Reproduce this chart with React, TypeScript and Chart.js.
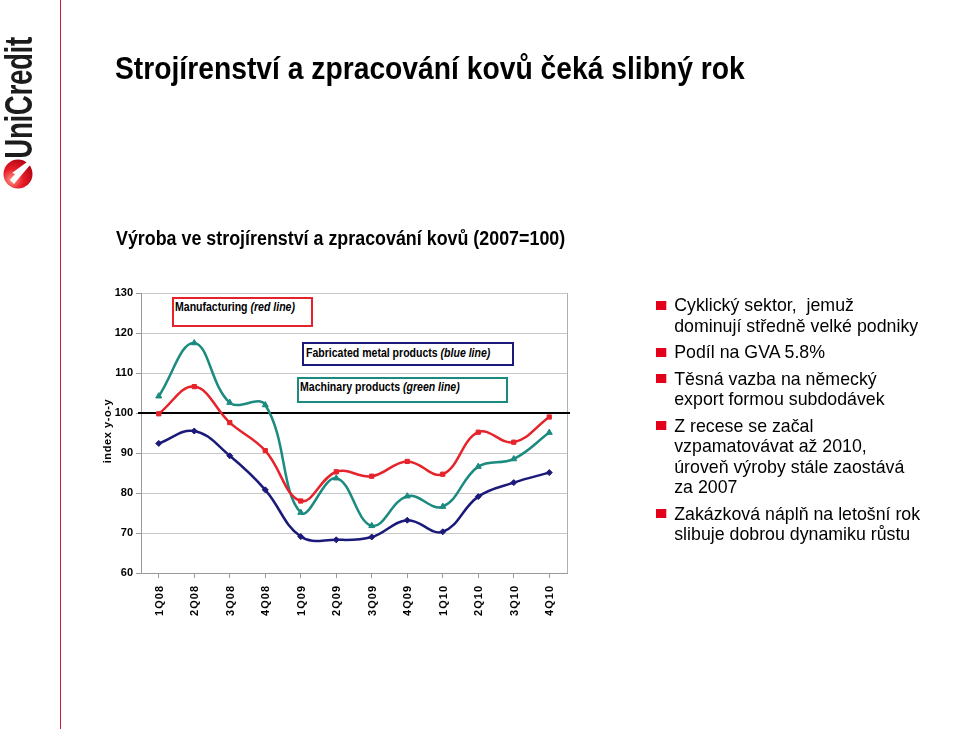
import React, { useEffect, useRef } from "react";
import { Chart, registerables } from "chart.js";

Chart.register(...registerables);

// ---- data ----
const categories = ["1Q08", "2Q08", "3Q08", "4Q08", "1Q09", "2Q09", "3Q09", "4Q09", "1Q10", "2Q10", "3Q10", "4Q10"];
const manufacturing = [99.8, 106.6, 97.6, 90.6, 78.0, 85.3, 84.2, 87.9, 84.7, 95.2, 92.7, 99.0];
const fabricatedMetal = [92.4, 95.5, 89.3, 80.8, 69.1, 68.3, 69.0, 73.2, 70.3, 79.1, 82.6, 85.1];
const machinery = [104.2, 117.5, 102.6, 102.0, 75.1, 83.7, 71.8, 79.2, 76.6, 86.6, 88.5, 95.1];
const yTicks = [60, 70, 80, 90, 100, 110, 120, 130];
const baseLine = 100;

const title = "Strojírenství a zpracování kovů čeká slibný rok";
const subtitle = "Výroba ve strojírenství a zpracování kovů (2007=100)";
const yAxisTitle = "index y-o-y";
const bullets = [
  ["Cyklický sektor,  jemuž", "dominují středně velké podniky"],
  ["Podíl na GVA 5.8%"],
  ["Těsná vazba na německý", "export formou subdodávek"],
  ["Z recese se začal", "vzpamatovávat až 2010,", "úroveň výroby stále zaostává", "za 2007"],
  ["Zakázková náplň na letošní rok", "slibuje dobrou dynamiku růstu"],
];

const RED = "#e6232b";
const BLUE = "#1b1a7a";
const GREEN = "#1b8a7f";
const SANS = '"Liberation Sans", Arial, Helvetica, sans-serif';

export default function App() {
  const ref = useRef<HTMLCanvasElement>(null);

  useEffect(() => {
    const canvas = ref.current;
    if (!canvas) return;

    const xLabels = {
      id: "xLabels",
      afterDraw(chart: any) {
        const ctx = chart.ctx;
        const xs = chart.scales.x;
        const a = chart.chartArea;
        ctx.save();
        ctx.font = `bold 11px ${SANS}`;
        (ctx as any).letterSpacing = "1px";
        ctx.fillStyle = "#000";
        ctx.textAlign = "right";
        ctx.textBaseline = "middle";
        categories.forEach((c, i) => {
          const x = xs.getPixelForValue(i);
          ctx.save();
          ctx.translate(x + 1, a.bottom + 12);
          ctx.rotate(-Math.PI / 2);
          ctx.fillText(c, 0, 0);
          ctx.restore();
        });
        ctx.restore();
      },
    };

    const frame = {
      id: "frame",
      beforeDatasetsDraw(chart: any) {
        const ctx = chart.ctx;
        const a = chart.chartArea;
        const ys = chart.scales.y;
        ctx.save();
        ctx.strokeStyle = "#b0b0b0";
        ctx.lineWidth = 1;
        const rx = Math.round(a.right) + 0.5;
        ctx.beginPath();
        ctx.moveTo(rx, a.top);
        ctx.lineTo(rx, a.bottom);
        ctx.stroke();
        const y = Math.round(ys.getPixelForValue(baseLine));
        ctx.strokeStyle = "#000";
        ctx.lineWidth = 2;
        ctx.beginPath();
        ctx.moveTo(a.left - 3, y);
        ctx.lineTo(a.right + 3, y);
        ctx.stroke();
        ctx.restore();
      },
    };

    const common = { borderWidth: 2.5, tension: 0.4, pointBorderWidth: 1 };

    const chart = new Chart(canvas, {
      type: "line",
      data: {
        labels: categories,
        datasets: [
          {
            label: "Manufacturing",
            data: manufacturing,
            borderColor: RED,
            backgroundColor: RED,
            pointStyle: "rect",
            pointRadius: 3,
            ...common,
          },
          {
            label: "Machinary products",
            data: machinery,
            borderColor: GREEN,
            backgroundColor: GREEN,
            pointStyle: "triangle",
            pointRadius: 3.5,
            ...common,
          },
          {
            label: "Fabricated metal products",
            data: fabricatedMetal,
            borderColor: BLUE,
            backgroundColor: BLUE,
            pointStyle: "rectRot",
            pointRadius: 3,
            ...common,
          },
        ],
      },
      options: {
        responsive: false,
        animation: false,
        devicePixelRatio: 1,
        layout: { padding: { left: 100, top: 293, right: 393, bottom: 141 } },
        plugins: {
          legend: { display: false },
          tooltip: { enabled: false },
        },
        scales: {
          x: {
            type: "category",
            offset: true,
            grid: { drawOnChartArea: false, drawTicks: true, tickLength: 5, tickColor: "#999", color: "#999" },
            border: { color: "#999" },
            ticks: { display: false },
            afterFit: (s: any) => {
              s.height = 20;
            },
          },
          y: {
            min: yTicks[0],
            max: yTicks[yTicks.length - 1],
            ticks: {
              stepSize: yTicks[1] - yTicks[0],
              color: "#000",
              padding: 3,
              font: { family: SANS, size: 11, weight: "bold" },
            },
            grid: { color: "#c8c8c8", tickLength: 5, tickColor: "#999" },
            border: { color: "#999" },
            afterFit: (s: any) => {
              s.width = 41;
            },
          },
        },
      },
      plugins: [frame, xLabels],
    } as any);

    return () => chart.destroy();
  }, []);

  const boxBase: React.CSSProperties = {
    position: "absolute",
    boxSizing: "border-box",
    background: "#fff",
    fontFamily: SANS,
    fontWeight: "bold",
    fontSize: 13,
    lineHeight: "16px",
    color: "#000",
    whiteSpace: "nowrap",
  };
  const squeeze = (k: number): React.CSSProperties => ({
    display: "inline-block",
    transform: `scaleX(${k})`,
    transformOrigin: "left center",
    whiteSpace: "nowrap",
  });

  return (
    <div style={{ position: "fixed", left: 0, top: 0, width: 960, height: 734, background: "#fff", overflow: "hidden" }}>
      <canvas ref={ref} width={960} height={734} style={{ position: "absolute", left: 0, top: 0, width: 960, height: 734 }} />

      {/* logo */}
      <div
        style={{
          position: "absolute",
          left: 19 - 100,
          top: 98 - 19,
          width: 200,
          height: 38,
          display: "flex",
          justifyContent: "center",
          fontFamily: SANS,
          fontWeight: "bold",
          fontSize: 38,
          lineHeight: "38px",
          color: "#1c1c1c",
          whiteSpace: "nowrap",
          transform: "rotate(-90deg) scaleX(0.73)",
          letterSpacing: "-0.5px",
        }}
      >
        UniCredit
      </div>
      <svg width={32} height={32} style={{ position: "absolute", left: 2, top: 158 }} viewBox="0 0 32 32">
        <defs>
          <radialGradient id="lg" cx="0.3" cy="0.7" r="0.8">
            <stop offset="0" stopColor="#ff9a8a" />
            <stop offset="0.45" stopColor="#e8202a" />
            <stop offset="1" stopColor="#b00012" />
          </radialGradient>
        </defs>
        <circle cx={16} cy={16} r={14.5} fill="url(#lg)" />
        <path d="M25 4 L28 7 L12 26 L8 22 L13 16 L10 15 Z" fill="#fff" />
      </svg>
      <div style={{ position: "absolute", left: 59.5, top: 0, width: 1.5, height: 729, background: "#cc1a36" }} />

      {/* titles */}
      <div
        style={{
          position: "absolute",
          left: 115,
          top: 53,
          fontFamily: SANS,
          fontWeight: "bold",
          fontSize: 31.5,
          lineHeight: 1,
          color: "#000",
          whiteSpace: "nowrap",
        }}
      >
        <span style={squeeze(0.897)}>{title}</span>
      </div>
      <div
        style={{
          position: "absolute",
          left: 116,
          top: 228,
          fontFamily: SANS,
          fontWeight: "bold",
          fontSize: 20,
          lineHeight: 1,
          color: "#000",
          whiteSpace: "nowrap",
        }}
      >
        <span style={squeeze(0.893)}>{subtitle}</span>
      </div>

      {/* y axis title */}
      <div
        style={{
          position: "absolute",
          left: 106.5 - 50,
          top: 431 - 8,
          width: 100,
          height: 16,
          lineHeight: "16px",
          textAlign: "center",
          fontFamily: SANS,
          fontWeight: "bold",
          fontSize: 11,
          letterSpacing: "0.6px",
          color: "#000",
          whiteSpace: "nowrap",
          transform: "rotate(-90deg)",
        }}
      >
        {yAxisTitle}
      </div>

      {/* annotation boxes */}
      <div style={{ ...boxBase, left: 172, top: 297, width: 141, height: 30, border: `2px solid ${RED}`, padding: "0 0 0 1px" }}>
        <span style={squeeze(0.81)}>
          Manufacturing <i>(red line)</i>
        </span>
      </div>
      <div style={{ ...boxBase, left: 302, top: 342, width: 212, height: 24, border: `2px solid ${BLUE}`, padding: "1px 0 0 2px" }}>
        <span style={squeeze(0.81)}>
          Fabricated metal products <i>(blue line)</i>
        </span>
      </div>
      <div style={{ ...boxBase, left: 297, top: 377, width: 211, height: 26, border: `2px solid ${GREEN}`, padding: "0 0 0 1px" }}>
        <span style={squeeze(0.81)}>
          Machinary products <i>(green line)</i>
        </span>
      </div>

      {/* bullets */}
      <div
        style={{
          position: "absolute",
          left: 656,
          top: 295,
          width: 320,
          fontFamily: SANS,
          fontSize: 19,
          lineHeight: "20.5px",
          color: "#000",
          transform: "scaleX(0.935)",
          transformOrigin: "left top",
        }}
      >
        {bullets.map((lines, i) => (
          <div key={i} style={{ position: "relative", paddingLeft: 19.5, marginTop: i === 0 ? 0 : 6 }}>
            <div style={{ position: "absolute", left: 0, top: 5.5, width: 10.5, height: 9, background: "#e2001a" }} />
            {lines.map((l, j) => (
              <div key={j} style={{ whiteSpace: "pre" }}>
                {l}
              </div>
            ))}
          </div>
        ))}
      </div>
    </div>
  );
}
